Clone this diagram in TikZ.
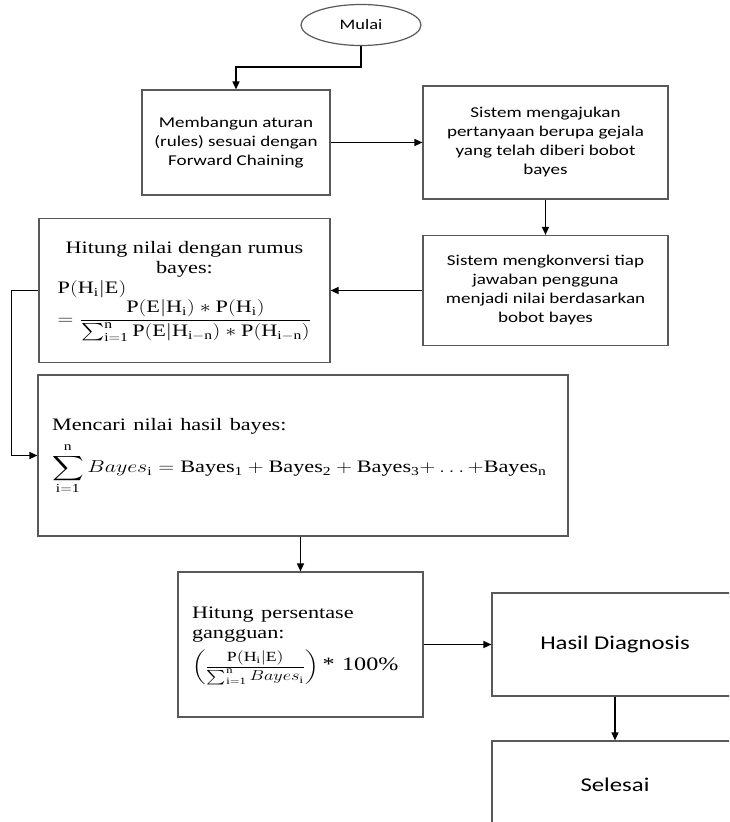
\documentclass[tikz,border=0pt]{standalone}
\usepackage{amsmath}
\usepackage{fontspec}
\usepackage{graphicx}
\usetikzlibrary{shapes.geometric,arrows.meta}
\setmainfont{Liberation Serif}
\newfontfamily\calibri{Carlito}
% the reference is stretched sideways
\newcommand{\wide}[1]{\scalebox{1.27}[1]{#1}}

\begin{document}
\begin{tikzpicture}[x=1pt, y=-1pt,
  box/.style={draw=black!65, line width=1.2pt, minimum width=245pt, inner sep=0pt},
  flow/.style={draw=black, line width=1.4pt, -{Triangle[length=8pt,width=7pt]}},
  cal/.style={font=\calibri\fontsize{15}{19}\selectfont},
  ser/.style={font=\rmfamily\fontsize{17.5}{20}\selectfont}]
\clip (0, 0) rectangle (729, 822);

\node[draw=black!65, line width=1.2pt, ellipse, minimum width=120pt, minimum height=41pt,
  inner sep=0pt, font=\calibri\fontsize{14.5}{17}\selectfont] (mulai) at (361, 25) {\wide{Mulai}};

\node[box, cal, minimum width=188pt, minimum height=105pt] (aturan) at (236, 142.5)
  {\wide{\begin{tabular}{@{}c@{}}Membangun aturan\\ (rules) sesuai dengan\\ Forward Chaining\end{tabular}}};
\node[box, cal, minimum height=113pt] (gejala) at (545.5, 142.5)
  {\wide{\begin{tabular}{@{}c@{}}Sistem mengajukan\\ pertanyaan berupa gejala\\ yang telah diberi bobot\\ bayes\end{tabular}}};
\node[box, cal, minimum height=110pt] (konversi) at (545.5, 290.5)
  {\wide{\begin{tabular}{@{}c@{}}Sistem mengkonversi tiap\\ jawaban pengguna\\ menjadi nilai berdasarkan\\ bobot bayes\end{tabular}}};

\node[box, ser, minimum width=291pt, minimum height=144pt] (rumus) at (184.5, 290.5)
  {\wide{\begin{tabular}{@{}c@{}}Hitung nilai dengan rumus\\ bayes:\\
  \multicolumn{1}{@{}l@{}}{$\mathrm{P(H_i|E)}$}\\
  $=\dfrac{\mathrm{P(E|H_i) * P(H_i)}}{\sum_{\mathrm{i=1}}^{\mathrm{n}}\mathrm{P(E|H_{i-n}) * P(H_{i-n})}}$\end{tabular}}};

\node[box, ser, minimum width=530pt, minimum height=161pt, text width=502pt, align=left]
  (hasil) at (303, 455.5)
  {\wide{\begin{tabular}{@{}l@{}}Mencari nilai hasil bayes:\\[7pt]
  $\displaystyle\sum_{\mathrm{i=1}}^{\mathrm{n}} Bayes_{\mathrm{i}} = \mathrm{Bayes_1 + Bayes_2 + Bayes_3}{+}\ldots{+}\mathrm{Bayes_n}$\end{tabular}}};

\node[box, ser, minimum height=145pt, text width=217pt, align=left] (persen) at (300.5, 644.5)
  {\wide{\begin{tabular}{@{}l@{}}Hitung persentase\\ gangguan:\\[6pt]
  {\fontsize{14}{16}\selectfont$\left(\dfrac{\mathrm{P(H_i|E)}}{\sum_{\mathrm{i=1}}^{\mathrm{n}} Bayes_{\mathrm{i}}}\right)$}%
  {\fontsize{19}{20}\selectfont\,* 100\%}\end{tabular}}};

\node[box, minimum width=246pt, minimum height=103pt, font=\calibri\fontsize{19.5}{23}\selectfont]
  (diagnosis) at (615, 644.5) {\wide{Hasil Diagnosis}};
\node[box, minimum width=246pt, minimum height=88pt, font=\calibri\fontsize{19.5}{23}\selectfont]
  (selesai) at (615, 785) {\wide{Selesai}};

\draw[flow] (mulai.south) -- ++(0, 21) -| (aturan.north);
\draw[flow] (aturan.east) -- (gejala.west);
\draw[flow] (gejala.south) -- (konversi.north);
\draw[flow] (konversi.west) -- (rumus.east);
\draw[flow] (rumus.west) -- ++(-27, 0) |- (hasil.west);
\draw[flow] (persen.north |- hasil.south) -- (persen.north);
\draw[flow] (persen.east) -- (diagnosis.west);
\draw[flow] (diagnosis.south) -- (selesai.north);

\end{tikzpicture}
\end{document}
